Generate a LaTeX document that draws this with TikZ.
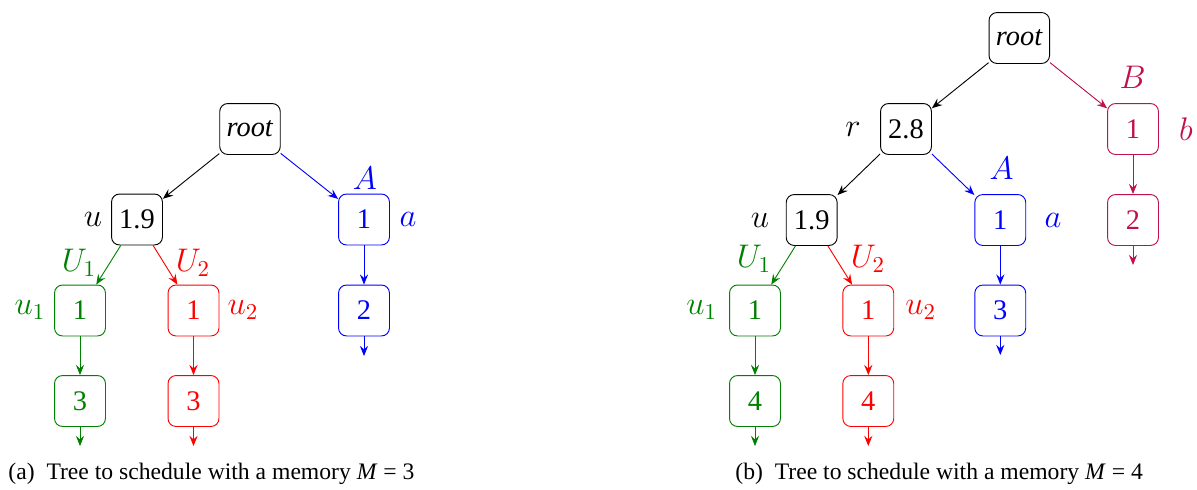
\documentclass[tikz,border=0pt]{standalone}
\usepackage{fontspec}
\setmainfont{Liberation Serif}
\usetikzlibrary{arrows.meta}
\definecolor{Green}{HTML}{008000}
\definecolor{Red}{HTML}{FF0000}
\definecolor{Blue}{HTML}{0000FF}
\definecolor{Purple}{HTML}{C0104F}
\tikzset{
  task/.style={draw,rounded corners=3.5pt,minimum width=22.4pt,minimum height=22.4pt,inner sep=3pt},
  lbl/.style={inner sep=0pt,font=\fontsize{14}{16}\selectfont},
  dep/.style={-{Stealth[length=4.5pt,width=3.6pt,inset=1.6pt]}},
  subcap/.style={anchor=west,inner sep=0pt,font=\fontsize{10.4}{12}\selectfont},
}
\begin{document}
\begin{tikzpicture}[x=0.44pt,y=-0.44pt,font=\fontsize{12.5}{15}\selectfont]
  \useasboundingbox (0,0) rectangle (1197,489);
  % (a) memory M = 3
  \node[task] (rootA) at (250,129) {\textit{root}};
  \node[task] (uA) at (137,219.5) {1.9};
  \node[task,Blue] (aA) at (364,219.5) {1};
  \node[task,Blue] (a2A) at (364,310.5) {2};
  \node[task,Green] (u1A) at (80,310.5) {1};
  \node[task,Green] (u1bA) at (80,401) {3};
  \node[task,Red] (u2A) at (193.5,310.5) {1};
  \node[task,Red] (u2bA) at (193.5,401) {3};
  \coordinate (a2Aend) at (364,356);
  \coordinate (u1Aend) at (80,446);
  \coordinate (u2Aend) at (193.5,446);
  \node[lbl] (uAlbl) at (93,219) {$u$};
  \node[lbl,Blue] (AAlbl) at (365,178) {$A$};
  \node[lbl,Blue] (aAlbl) at (408,219) {$a$};
  \node[lbl,Green] (U1Albl) at (79,263) {$U_1$};
  \node[lbl,Red] (U2Albl) at (193,263) {$U_2$};
  \node[lbl,Green] (u1Albl) at (30,310) {$u_1$};
  \node[lbl,Red] (u2Albl) at (243,310) {$u_2$};
  \draw[dep] (rootA) -- (uA);
  \draw[dep,Blue] (rootA) -- (aA);
  \draw[dep,Blue] (aA) -- (a2A);
  \draw[dep,Blue] (a2A) -- (a2Aend);
  \draw[dep,Green] (uA) -- (u1A);
  \draw[dep,Green] (u1A) -- (u1bA);
  \draw[dep,Green] (u1bA) -- (u1Aend);
  \draw[dep,Red] (uA) -- (u2A);
  \draw[dep,Red] (u2A) -- (u2bA);
  \draw[dep,Red] (u2bA) -- (u2Aend);
  \node[subcap] (capA) at (8,474) {(a)\enspace Tree to schedule with a memory \textit{M} = 3};
  % (b) memory M = 4
  \node[task] (rootB) at (1019.3,38) {\textit{root}};
  \node[task] (rB) at (906,129) {2.8};
  \node[task,Purple] (bB) at (1133,129) {1};
  \node[task,Purple] (b2B) at (1133,220) {2};
  \node[task] (uB) at (811.7,220) {1.9};
  \node[task,Blue] (aB) at (1000.3,220) {1};
  \node[task,Blue] (a3B) at (1000.3,310.5) {3};
  \node[task,Green] (u1B) at (755,310.5) {1};
  \node[task,Green] (u1bB) at (755,401) {4};
  \node[task,Red] (u2B) at (868.3,310.5) {1};
  \node[task,Red] (u2bB) at (868.3,401) {4};
  \coordinate (b2Bend) at (1133,265);
  \coordinate (a3Bend) at (1000.3,355);
  \coordinate (u1Bend) at (755,446);
  \coordinate (u2Bend) at (868.3,446);
  \node[lbl] (rBlbl) at (853,129) {$r$};
  \node[lbl,Purple] (bBlbl) at (1186,129) {$b$};
  \node[lbl,Purple] (BBlbl) at (1132.7,77) {$B$};
  \node[lbl,Blue] (ABlbl) at (1001.7,168) {$A$};
  \node[lbl,Blue] (aBlbl) at (1053,220) {$a$};
  \node[lbl] (uBlbl) at (760,220) {$u$};
  \node[lbl,Green] (U1Blbl) at (754,259) {$U_1$};
  \node[lbl,Red] (U2Blbl) at (868,259) {$U_2$};
  \node[lbl,Green] (u1Blbl) at (701.7,310) {$u_1$};
  \node[lbl,Red] (u2Blbl) at (920.7,310) {$u_2$};
  \draw[dep] (rootB) -- (rB);
  \draw[dep,Purple] (rootB) -- (bB);
  \draw[dep,Purple] (bB) -- (b2B);
  \draw[dep,Purple] (b2B) -- (b2Bend);
  \draw[dep] (rB) -- (uB);
  \draw[dep,Blue] (rB) -- (aB);
  \draw[dep,Blue] (aB) -- (a3B);
  \draw[dep,Blue] (a3B) -- (a3Bend);
  \draw[dep,Green] (uB) -- (u1B);
  \draw[dep,Green] (u1B) -- (u1bB);
  \draw[dep,Green] (u1bB) -- (u1Bend);
  \draw[dep,Red] (uB) -- (u2B);
  \draw[dep,Red] (u2B) -- (u2bB);
  \draw[dep,Red] (u2bB) -- (u2Bend);
  \node[subcap] (capB) at (735,474) {(b)\enspace Tree to schedule with a memory \textit{M} = 4};
\end{tikzpicture}
\end{document}
